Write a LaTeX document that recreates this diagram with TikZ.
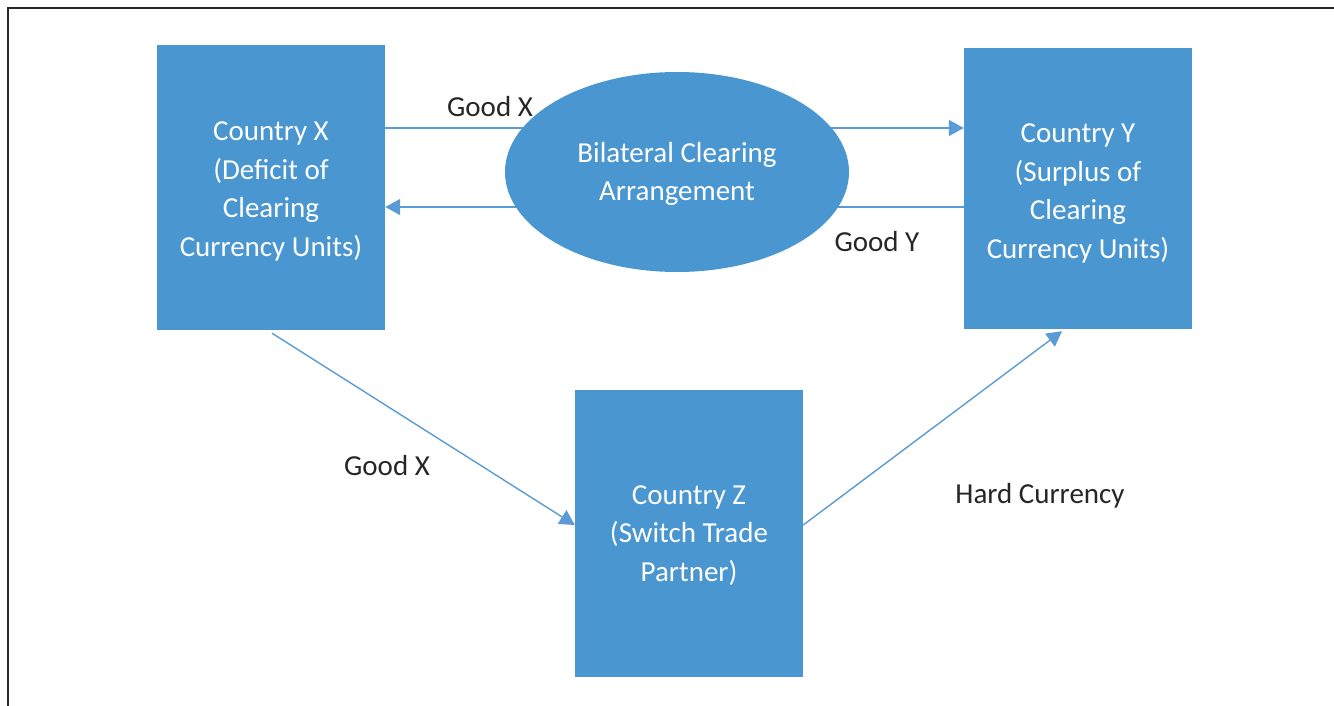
\documentclass[tikz,border=0pt]{standalone}
\usepackage{fontspec}
\setmainfont{Carlito}
\usetikzlibrary{shapes.geometric,arrows.meta}
\definecolor{boxblue}{RGB}{74,150,208}
\definecolor{lineblue}{RGB}{91,155,213}
\definecolor{labelgray}{RGB}{38,38,38}
\definecolor{framegray}{RGB}{40,40,40}
\tikzset{
  country/.style={rectangle, fill=boxblue, draw=none,
    inner sep=0pt, minimum width=228pt},
  clearing/.style={ellipse, fill=boxblue, draw=none,
    inner sep=0pt, minimum width=344pt, minimum height=200pt},
  boxtext/.style={text=white, align=center, inner sep=0pt,
    font=\fontsize{29}{38.5}\selectfont},
  flow/.style={draw=lineblue, line width=1.4pt,
    -{Triangle[length=15pt,width=16pt]}},
  flowlabel/.style={text=labelgray, inner sep=0pt,
    font=\fontsize{29}{35}\selectfont},
}
\begin{document}
\begin{tikzpicture}[x=1pt,y=-1pt]
\useasboundingbox (0,0) rectangle (1334,706);
% frame lines along top and left
\draw[framegray, line width=1.5pt] (8,706) -- (8,8) -- (1334,8);

% trading countries
\node[country, minimum height=285pt] (X) at (271,187.5) {};
\node[country, minimum height=281pt] (Y) at (1078,188.5) {};
\node[country, minimum height=287pt] (Z) at (689,533.5) {};

% flows between countries
\draw[flow] ([yshift=59.5pt]X.east) -- ([yshift=60.5pt]Y.west);
\draw[flow] ([yshift=-18.5pt]Y.west) -- ([yshift=-19.5pt]X.east);
\draw[flow] ([xshift=1pt,yshift=-3pt]X.south) -- ([yshift=8.5pt]Z.west);
\draw[flow] ([yshift=8.5pt]Z.east) -- ([xshift=-16pt,yshift=-2pt]Y.south);

% clearing arrangement sits over the horizontal flows
\node[clearing] (B) at (677,172) {};

% box captions
\node[boxtext] (Xt) at ([yshift=-4pt]X.center)
  {Country X\\(Deficit of\\Clearing\\Currency Units)};
\node[boxtext] (Yt) at ([yshift=-5pt]Y.center)
  {Country Y\\(Surplus of\\Clearing\\Currency Units)};
\node[boxtext] (Zt) at ([yshift=-2pt]Z.center)
  {Country Z\\(Switch Trade\\Partner)};
\node[boxtext] (Bt) at ([yshift=-2pt]B.center)
  {Bilateral Clearing\\Arrangement};

% flow labels
\node[flowlabel] (l1) at (490,106.5) {Good X};
\node[flowlabel] (l2) at (877,241.5) {Good Y};
\node[flowlabel] (l3) at (387,465.5) {Good X};
\node[flowlabel] (l4) at (1040,495.5) {Hard Currency};
\end{tikzpicture}
\end{document}
